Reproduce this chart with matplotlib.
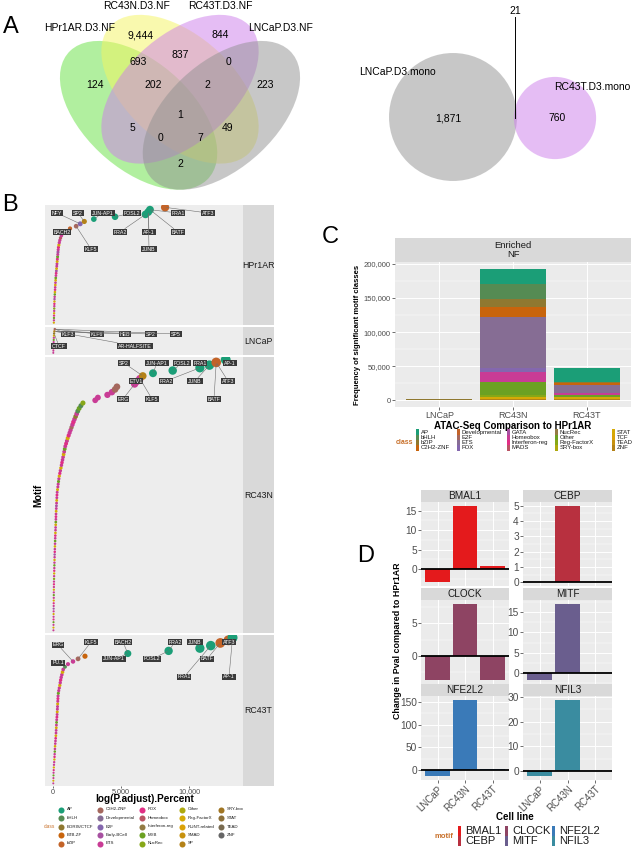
import numpy as np
import matplotlib
matplotlib.use('Agg')
import matplotlib.pyplot as plt
from matplotlib.patches import Ellipse, Circle, Rectangle
from matplotlib.ticker import FuncFormatter, MultipleLocator

plt.rcParams['font.family'] = ['Liberation Sans', 'DejaVu Sans']

# ---------------------------------------------------------------
#   data
# ---------------------------------------------------------------
# A: four-set venn (1=HPr1AR, 2=RC43N, 3=RC43T, 4=LNCaP)
venn4_sets = ['HPr1AR.D3.NF', 'RC43N.D3.NF', 'RC43T.D3.NF', 'LNCaP.D3.NF']
venn4_regions = ['1', '2', '3', '4', '12', '23', '34', '123', '234', '1234', '13', '24', '134', '124', '14']
venn4_counts = [124, 9444, 844, 223, 693, 837, 0, 202, 2, 1, 5, 49, 0, 7, 2]

# A: two-set venn
venn2_sets = ['LNCaP.D3.mono', 'RC43T.D3.mono']
venn2_only = [1871, 760]
venn2_both = 21

# B: motif enrichment per cell line, bottom -> top
class_names = ['AP', 'bHLH', 'BORIS/CTCF', 'BTB-ZF', 'bZIP', 'C2H2-ZNF', 'Developmental', 'E2F',
               'Early-BCell', 'ETS', 'FOX', 'Homeobox', 'Interferon-reg', 'MYB', 'NucRec', 'Other',
               'Reg-FactorX', 'RUNT-related', 'SMAD', 'SP', 'SRY-box', 'STAT', 'TEAD', 'ZNF']
# class codes: A = class_names[0], B = class_names[1], ...
hp_vals = [60, 65, 70, 75, 80, 85, 90, 95, 100, 105,
           110, 120, 130, 140, 150, 160, 170, 180, 190, 200,
           215, 230, 245, 260, 275, 290, 305, 320, 335, 350,
           365, 380, 400, 430, 460, 500, 550, 620, 700, 900,
           1250, 1700, 2000, 2300, 3000, 4560, 6800, 7000, 7130, 8240]
hp_cls = "QJNKQJOJKQ" "IJNQKJRJQN" "JKIQJJQKNJ" "IJKQJJLJKJ" "EFHTAAAAAE"

ln_vals = [20, 25, 30, 35, 40, 45, 50, 60, 70, 80, 100, 130]
ln_cls = "JJKJQJNJQCTF"

rn_vals = [30, 32, 34, 36, 38, 40, 42, 44, 46, 48, 50, 52, 54, 56, 58, 61, 64, 67,
           70, 75, 80, 85, 90, 95, 100, 105, 110, 115, 120, 127, 134, 141, 148,
           155, 162, 169, 176, 183, 190, 197, 204, 210, 215, 220,
           230, 240, 250, 260, 270, 280, 290,
           305, 330, 355, 380, 405, 430,
           460, 500, 540, 580, 620, 660,
           700, 740, 780, 820, 860,
           900, 960, 1020, 1080,
           1150, 1220, 1290, 1360,
           1430, 1500, 1580, 1660, 1740,
           1820, 1920, 2050, 2200,
           3100, 3300, 4000, 4330, 4560, 4700, 6000, 6170, 6390, 6600,
           7350, 8800, 10800, 11500, 12000, 12700]
rn_cls = ("JQJNKJQJIJ" "KQJNJQJKJO" "JQKJNJQJIK" "JQJNJKQJJQ" "NJKJQJIJQJ"
          "KJQJJNJQKJ" "QJKJJQJNJK" "JQKJJFJKJC" "JBNBOJJJJF" "FJJJTAAAAEA")

rt_vals = [20, 25, 30, 35, 40, 50, 60, 70, 85, 100,
           110, 120, 130, 140, 150, 165, 180, 195, 210, 220,
           230, 240, 250, 260, 270, 285, 300,
           310, 320, 330, 340, 350, 360, 370,
           390, 420, 460, 500,
           530, 560, 600,
           650, 700, 750,
           880, 1100, 1470, 1840, 2350, 5500, 8500, 10800, 11600, 12300, 12900, 13200]
rt_cls = "JQJNJKQJJQ" "KJNJQJJKQJ" "JQJNJKJQJJ" "QJKJNJJQJK" "JJQJ" "BJJFDAAAAEEA"

# label text, motif index
hp_labels = [('NFY', 42), ('SP2', 43), ('JUN-AP1', 44), ('FOSL2', 45), ('FRA1', 48), ('ATF3', 49),
             ('BACH2', 40), ('FRA2', 46), ('AP-1', 47), ('BATF', 48), ('KLF5', 41), ('JUNB', 47)]
ln_labels = [('KLF3', 11), ('KLF6', 11), ('HEB', 10), ('SP2', 10), ('SP5', 11), ('CTCF', 9), ('AR-HALFSITE', 10)]
rn_labels = [('SP2', 94), ('JUN-AP1', 95), ('FOSL2', 96), ('FRA1', 97), ('AP-1', 100), ('ETV1', 92),
             ('FRA2', 97), ('JUNB', 98), ('ATF3', 99), ('ERG', 91), ('KLF5', 93), ('BATF', 99)]
rt_labels = [('ERG', 46), ('KLF5', 47), ('BACH2', 49), ('FRA2', 50), ('JUNB', 51), ('ATF3', 54),
             ('JUN-AP1', 49), ('FOSL2', 50), ('BATF', 53), ('PU.1', 44), ('FRA1', 52), ('AP-1', 55)]

# C: frequency of significant motif classes
c_classes = ['AP', 'bHLH', 'bZIP', 'C2H2-ZNF', 'Developmental', 'E2F', 'ETS', 'FOX', 'GATA', 'Homeobox',
             'Interferon-reg', 'MADS', 'NucRec', 'Other', 'Reg-FactorX', 'SRY-box', 'STAT', 'TCF', 'TEAD', 'ZNF']
c_cells = ['LNCaP', 'RC43N', 'RC43T']
c_lncap = [300, 0, 100, 0, 0, 150, 500, 0, 0, 300, 0, 0, 0, 200, 0, 0, 100, 0, 0, 0]
c_rc43n = [23100, 21600, 11500, 14400, 0, 0, 75000, 5700, 0, 14400, 0, 0, 0, 20200, 2900, 0, 2900, 0, 0, 1400]
c_rc43t = [20150, 0, 2200, 2200, 0, 0, 11500, 0, 0, 4300, 0, 0, 0, 2900, 0, 0, 2900, 0, 0, 1400]

# D: change in p-value compared to HPr1AR
d_cells = ['LNCaP', 'RC43N', 'RC43T']
d_motifs = ['BMAL1', 'CEBP', 'CLOCK', 'MITF', 'NFE2L2', 'NFIL3']
d_bmal1 = [-3.3, 16.2, 0.9]
d_cebp = [0, 5.0, 0]
d_clock = [-3.75, 8.0, -3.75]
d_mitf = [-1.75, 17.0, 0]
d_nfe2l2 = [-13, 154, 2]
d_nfil3 = [-2.0, 28.8, 0]
d_values = [d_bmal1, d_cebp, d_clock, d_mitf, d_nfe2l2, d_nfil3]
d_colors = ['#E41A1C', '#B8303F', '#8E4463', '#6A5E8E', '#3A7AB8', '#3A8CA0']

# ---------------------------------------------------------------
#   figure + helpers
# ---------------------------------------------------------------
W, H = 635, 850
fig = plt.figure(figsize=(W / 100, H / 100), dpi=100)


def add_ax(x0, y0, x1, y1):
    # pixel box, top-left origin
    return fig.add_axes([x0 / W, 1 - y1 / H, (x1 - x0) / W, (y1 - y0) / H])


ov = add_ax(0, 0, W, H)
ov.set_xlim(0, W)
ov.set_ylim(H, 0)
ov.axis('off')
ov.set_zorder(10)

dark2 = ['#1B9E77', '#D95F02', '#7570B3', '#E7298A', '#66A61E', '#E6AB02', '#A6761D', '#666666']


def ramp(cols, n):
    rgb = np.array([matplotlib.colors.to_rgb(c) for c in cols])
    pos = np.linspace(0, len(cols) - 1, n)
    idx = np.arange(len(cols))
    return [tuple(np.interp(p, idx, rgb[:, k]) for k in range(3)) for p in pos]


pal = ramp(dark2, 24)
TXT = '#4D4D4D'
BG = '#EBEBEB'
STRIP = '#D9D9D9'

# panel letters
for letter, (lx, ly) in zip('ABCD', [(11, 27), (10, 205), (330, 237), (366, 556)]):
    ov.text(lx, ly, letter, fontsize=17, ha='center', va='center')

# ---------------------------------------------------------------
#   A: venn diagrams
# ---------------------------------------------------------------
av = add_ax(42, -23, 318, 238)
av.set_xlim(0, 1)
av.set_ylim(0, 1)
av.axis('off')
venn4_fill = ['#65E141', '#F5F55F', '#CD7DEB', '#919191']
venn4_geom = [((0.35, 0.47), -45), ((0.5, 0.57), -45), ((0.5, 0.57), 45), ((0.65, 0.47), 45)]
for (c, ang), col in zip(venn4_geom, venn4_fill):
    av.add_patch(Ellipse(c, 0.7, 0.4, angle=ang, fc=col, alpha=0.5, lw=0, clip_on=False))

region_xy = {'1': (95, 85), '2': (140, 35), '3': (220, 35), '4': (265, 85), '12': (138, 62),
             '23': (180, 55), '34': (228, 62), '123': (153, 85), '234': (207, 85), '1234': (180, 115),
             '13': (132, 128), '24': (228, 128), '134': (160, 138), '124': (200, 138), '14': (180, 164)}
for reg, cnt in zip(venn4_regions, venn4_counts):
    x, y = region_xy[reg]
    ov.text(x, y, f'{cnt:,}', fontsize=7.5, ha='center', va='center')
for name, (x, y) in zip(venn4_sets, [(80, 28), (137, 6), (220, 6), (281, 28)]):
    ov.text(x, y, name, fontsize=7.5, ha='center', va='center')

# two-set venn, circle area ~ set size
k_r = 1.471
r_a = k_r * np.sqrt(venn2_only[0] + venn2_both)
r_b = k_r * np.sqrt(venn2_only[1] + venn2_both)
ov.add_patch(Circle((453, 117), r_a, fc='#919191', alpha=0.5, lw=0))
ov.add_patch(Circle((555, 118), r_b, fc='#CD7DEB', alpha=0.5, lw=0))
ov.text(448, 118, f'{venn2_only[0]:,}', fontsize=7.5, ha='center', va='center')
ov.text(557, 118, f'{venn2_only[1]:,}', fontsize=7.5, ha='center', va='center')
ov.text(397, 72, venn2_sets[0], fontsize=7.5, ha='center', va='center')
ov.text(592, 87, venn2_sets[1], fontsize=7.5, ha='center', va='center')
ov.text(515, 11, str(venn2_both), fontsize=7.5, ha='center', va='center')
ov.plot([515, 515], [17, 118], color='black', lw=0.7)

# ---------------------------------------------------------------
#   B: motif curves
# ---------------------------------------------------------------
b_x0, b_x1 = 45, 243
b_rows = [('HPr1AR', hp_vals, hp_cls, hp_labels, 205, 325,
           [(57, 213), (78, 213), (103, 213), (132, 213), (178, 213), (208, 213),
            (62, 232), (120, 232), (149, 232), (178, 232), (91, 249), (149, 249)]),
          ('LNCaP', ln_vals, ln_cls, ln_labels, 327, 355,
           [(68, 334), (97, 334), (125, 334), (151, 334), (176, 334), (59, 346), (135, 346)]),
          ('RC43N', rn_vals, rn_cls, rn_labels, 357, 633,
           [(124, 363), (157, 363), (182, 363), (200, 363), (230, 363), (136, 381),
            (166, 381), (195, 381), (228, 381), (123, 399), (152, 399), (214, 399)]),
          ('RC43T', rt_vals, rt_cls, rt_labels, 635, 786,
           [(58, 645), (91, 642), (123, 642), (175, 642), (195, 642), (229, 642),
            (114, 659), (152, 659), (207, 659), (58, 663), (184, 677), (229, 677)])]

for i, (name, vals, cls, labs, y0, y1, lab_xy) in enumerate(b_rows):
    ax = add_ax(b_x0, y0, b_x1, y1)
    ax.set_facecolor('#EDEDED')
    v = np.array(vals, dtype=float)
    rank = np.arange(len(v))
    cols = [pal[ord(c) - 65] for c in cls]
    size = ((1.7 + 8.3 * np.sqrt(v / 13200)) * 0.72) ** 2
    ax.scatter(v, rank, s=size, c=cols, lw=0, zorder=3)
    ax.set_xlim(-590, 13970)
    ax.set_ylim(-1, len(v))
    for sp in ax.spines.values():
        sp.set_visible(False)
    ax.set_yticks([])
    ax.set_xticks([0, 5000, 10000])
    if i == len(b_rows) - 1:
        ax.xaxis.set_major_formatter(FuncFormatter(lambda x, p: f'{x:,.0f}'))
        ax.tick_params(axis='x', length=1.5, width=0.5, color='#333333', labelsize=5.2,
                       labelcolor=TXT, pad=0.3)
    else:
        ax.tick_params(axis='x', length=0, labelbottom=False)
    for (txt, idx), (lx, ly) in zip(labs, lab_xy):
        ax.annotate(txt, xy=(vals[idx], idx), xytext=(lx, ly), textcoords=ov.transData,
                    ha='center', va='center', fontsize=3.8, color='white',
                    bbox=dict(boxstyle='square,pad=0.15', fc='#3A3A3A', ec='none'),
                    arrowprops=dict(arrowstyle='-', color='#6E6E6E', lw=0.4, shrinkA=0, shrinkB=1),
                    zorder=5)
    sw = 31 / (b_x1 - b_x0)
    ax.add_patch(Rectangle((1, 0), sw, 1, transform=ax.transAxes, fc=STRIP, ec='none', clip_on=False))
    ax.text(1 + sw / 2, 0.5, name, transform=ax.transAxes, ha='center', va='center',
            fontsize=6.3, color='#1A1A1A')

ov.text(145, 799, 'log(P.adjust).Percent', fontsize=7.2, fontweight='bold', ha='center', va='center')
ov.text(38, 495, 'Motif', fontsize=7, fontweight='bold', rotation=90, ha='center', va='center')

# B legend
ov.text(49, 826, 'class', fontsize=3.5, color='#C8702A', ha='center', va='center')
b_leg_x = [61, 100, 142, 182, 221]
for k, name in enumerate(class_names):
    col, row = divmod(k, 5)
    x, y = b_leg_x[col], 809.5 + 8.5 * row
    ov.scatter([x], [y], s=19, color=pal[k], lw=0)
    ov.text(x + 6, y, name, fontsize=3.2, ha='left', va='center', color='#1A1A1A')

# ---------------------------------------------------------------
#   C: stacked bars
# ---------------------------------------------------------------
axc = add_ax(395, 262, 631, 407)
axc.set_facecolor(BG)
xs = np.arange(len(c_cells))
stack = np.array([c_lncap, c_rc43n, c_rc43t], dtype=float)
bottom = np.zeros(len(c_cells))
for k in reversed(range(len(c_classes))):
    axc.bar(xs, stack[:, k], 0.9, bottom=bottom, color=pal[k], lw=0, zorder=2)
    bottom += stack[:, k]
top = bottom.max()
axc.set_xlim(-0.6, 2.6)
axc.set_ylim(-0.05 * top, 1.05 * top)
axc.yaxis.set_major_locator(MultipleLocator(50000))
axc.yaxis.set_minor_locator(MultipleLocator(25000))
axc.yaxis.set_major_formatter(FuncFormatter(lambda x, p: f'{x:,.0f}'))
axc.set_xticks(xs)
axc.set_xticklabels(c_cells)
axc.grid(which='major', color='white', lw=0.7, zorder=0)
axc.grid(which='minor', axis='y', color='white', lw=0.35, zorder=0)
axc.set_axisbelow(True)
for sp in axc.spines.values():
    sp.set_visible(False)
axc.tick_params(axis='y', which='major', length=2, width=0.5, color='#333333', labelsize=5.5,
                labelcolor=TXT, pad=1)
axc.tick_params(axis='y', which='minor', length=0)
axc.tick_params(axis='x', length=2, width=0.5, color='#333333', labelsize=6.5, labelcolor=TXT, pad=1)
axc.set_ylabel('Frequency of significant motif classes', fontsize=5.6, fontweight='bold', labelpad=2)
axc.set_xlabel('ATAC-Seq Comparison to HPr1AR', fontsize=7, fontweight='bold', labelpad=0.5)
sh = 24 / 145
axc.add_patch(Rectangle((0, 1), 1, sh, transform=axc.transAxes, fc=STRIP, ec='none', clip_on=False))
axc.text(0.5, 1 + sh / 2, 'Enriched\nNF', transform=axc.transAxes, ha='center', va='center',
         fontsize=6.8, color='#1A1A1A', linespacing=0.95)

# C legend
ov.text(405, 442, 'class', fontsize=5, color='#C8702A', fontweight='bold', ha='center', va='center')
c_leg_x = [417, 458, 508, 556, 613]
for k, name in enumerate(c_classes):
    col, row = divmod(k, 4)
    x, y = c_leg_x[col], 432 + 5.3 * row
    ov.add_patch(Rectangle((x - 1.5, y - 2.65), 3, 5.3, fc=pal[k], ec='none'))
    ov.text(x + 4, y, name, fontsize=4.3, ha='left', va='center', color='#1A1A1A')

# ---------------------------------------------------------------
#   D: faceted bars
# ---------------------------------------------------------------
d_cols = [(421, 509), (523, 612)]
d_rows = [(502, 586), (600, 684), (696, 780)]
d_steps = [5, 1, 5, 5, 50, 10]
xs = np.arange(len(d_cells))
for k, motif in enumerate(d_motifs):
    row, col = divmod(k, 2)
    (x0, x1), (y0, y1) = d_cols[col], d_rows[row]
    ax = add_ax(x0, y0, x1, y1)
    ax.set_facecolor(BG)
    vals = d_values[k]
    ax.bar(xs, vals, 0.9, color=d_colors[k], lw=0, zorder=2)
    ax.axhline(0, color='black', lw=1.3, zorder=3)
    lo, hi = min(0, min(vals)), max(0, max(vals))
    span = hi - lo
    ax.set_ylim(lo - 0.05 * span, hi + 0.05 * span)
    ax.set_xlim(-0.6, 2.6)
    ax.yaxis.set_major_locator(MultipleLocator(d_steps[k]))
    ax.yaxis.set_minor_locator(MultipleLocator(d_steps[k] / 2))
    ax.set_xticks(xs)
    ax.grid(which='major', color='white', lw=0.7, zorder=0)
    ax.grid(which='minor', axis='y', color='white', lw=0.35, zorder=0)
    ax.set_axisbelow(True)
    for sp in ax.spines.values():
        sp.set_visible(False)
    ax.tick_params(axis='y', which='major', length=2, width=0.5, color='#333333', labelsize=7.3,
                   labelcolor=TXT, pad=1)
    ax.tick_params(axis='y', which='minor', length=0)
    if row == len(d_rows) - 1:
        ax.set_xticklabels(d_cells, rotation=45, ha='right', rotation_mode='anchor')
        ax.tick_params(axis='x', length=2, width=0.5, color='#333333', labelsize=7,
                       labelcolor=TXT, pad=1)
    else:
        ax.tick_params(axis='x', length=0, labelbottom=False)
    sh = 12 / (y1 - y0)
    ax.add_patch(Rectangle((0, 1), 1, sh, transform=ax.transAxes, fc=STRIP, ec='none', clip_on=False))
    ax.text(0.5, 1 + sh / 2, motif, transform=ax.transAxes, ha='center', va='center',
            fontsize=7.2, color='#1A1A1A')

ov.text(515, 817, 'Cell line', fontsize=7, fontweight='bold', ha='center', va='center')
ov.text(397, 641, 'Change in Pval compared to HPr1AR', fontsize=6.4, fontweight='bold',
        rotation=90, ha='center', va='center')

# D legend
ov.text(444, 836, 'motif', fontsize=5.5, color='#C8702A', fontweight='bold', ha='center', va='center')
d_leg_x = [459, 506, 553]
for k, motif in enumerate(d_motifs):
    col, row = divmod(k, 2)
    x, y = d_leg_x[col], 831 + 10 * row
    ov.add_patch(Rectangle((x - 1.5, y - 5), 3, 10, fc=d_colors[k], ec='none'))
    ov.text(x + 6, y, motif, fontsize=8, ha='left', va='center', color='#1A1A1A')

fig.savefig('out.png', dpi=100)
